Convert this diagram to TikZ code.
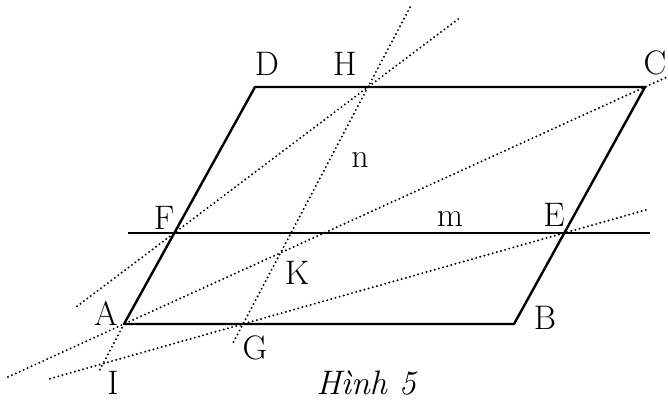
\documentclass[tikz,border=0pt]{standalone}
\usepackage{fontspec}
\begin{document}
\begin{tikzpicture}[x=1pt, y=-1pt, line join=round, font=\fontsize{34}{38}\selectfont,
  edge/.style={line width=2.4pt},
  dotline/.style={line width=2.2pt, line cap=round, dash pattern=on 0pt off 4.3pt},
  lbl/.style={inner sep=0pt}]

\useasboundingbox (0,0) rectangle (668,402);

\coordinate (A) at (124,324);
\coordinate (B) at (514,324);
\coordinate (C) at (645,87);
\coordinate (D) at (255,87);
\coordinate (F) at (174.3,233);
\coordinate (E) at (564.3,233);
\coordinate (H) at (368,87);
\coordinate (G) at (243,324);
\coordinate (K) at (intersection of A--C and G--H);
\coordinate (I) at (103.1,363.6);

\coordinate (mL) at (128,233);
\coordinate (mR) at (650,233);
\coordinate (acL) at (8,377);
\coordinate (acR) at (667,77);
\coordinate (fhL) at (77,306.3);
\coordinate (fhR) at (460,17.7);
\coordinate (nT) at (410.7,6);
\coordinate (nB) at (233.5,342);
\coordinate (geL) at (50,378.7);
\coordinate (geR) at (648,209.3);
\coordinate (aiB) at (98.7,372);

\draw[edge] (A) -- (B) -- (C) -- (D) -- cycle;
\draw[edge] (mL) -- (mR);

\draw[dotline] (acL) -- (A) -- (K) -- (C) -- (acR);
\draw[dotline] (fhL) -- (F) -- (H) -- (fhR);
\draw[dotline] (nB) -- (G) -- (K) -- (H) -- (nT);
\draw[dotline] (geL) -- (I) -- (G) -- (E) -- (geR);
\draw[dotline] (A) -- (I) -- (aiB);

\node[lbl] (lD) at (267,64) {D};
\node[lbl] (lH) at (345,64) {H};
\node[lbl] (lC) at (655,63) {C};
\node[lbl] (ln) at (360,160) {n};
\node[lbl] (lF) at (164,218) {F};
\node[lbl] (lm) at (450,219) {m};
\node[lbl] (lE) at (554,215) {E};
\node[lbl] (lK) at (297,273) {K};
\node[lbl] (lA) at (106,313) {A};
\node[lbl] (lB) at (545,318) {B};
\node[lbl] (lG) at (255,348) {G};
\node[lbl] (lI) at (113,383) {I};
\node[lbl] (cap) at (367,383) {\textit{Hình 5}};
\end{tikzpicture}
\end{document}
